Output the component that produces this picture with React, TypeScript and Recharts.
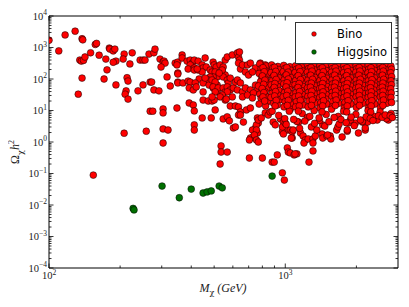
import React from "react";
import { ScatterChart, Scatter, XAxis, YAxis } from "recharts";

type Pt = [number, number];

// ---- x/y tick values ----
const xMajorTicks = [100, 1000];
const xMinorTicks = [200, 300, 400, 500, 600, 700, 800, 900, 2000];
const yMajorTicks = [1e-4, 1e-3, 1e-2, 1e-1, 1, 10, 100, 1000, 10000];
const yMajorExp = ["−4", "−3", "−2", "−1", "0", "1", "2", "3", "4"];
const xMajorExp = ["2", "3"];
const minorMultipliers = [2, 3, 4, 5, 6, 7, 8, 9];

// ---- Bino (mass GeV, relic density) ----
const binoLowMass: Pt[] = [
  [100, 1700], [110, 780], [117, 2500], [129, 3300], [138, 1900], [139, 1750],
  [135, 400], [137, 370], [140, 390], [142, 500], [150, 680], [157, 1250], [159, 1350],
  [163, 570], [138, 107], [133, 33], [154, 0.089], [174, 430], [176, 195], [171, 100],
  [180, 960], [181, 890], [187, 780], [190, 890], [192, 370], [187, 340], [192, 65],
  [208, 620], [206, 430], [208, 1.9], [214, 110], [216, 86], [212, 42], [210, 33],
  [216, 23], [220, 300], [225, 680], [238, 42], [243, 400], [250, 400], [255, 400],
  [250, 65], [265, 620], [268, 80], [278, 680], [281, 890], [272, 80], [278, 45],
  [292, 42], [258, 2.2], [268, 9.5], [275, 9.5], [295, 430],
];

const binoMidMass: Pt[] = [
  [304, 345], [307, 370], [310, 320], [298, 240], [316, 116],
  [342, 320], [351, 345], [348, 280], [366, 580], [366, 465], [351, 155], [351, 144],
  [384, 370], [396, 400], [404, 320], [412, 400], [396, 280], [388, 208], [412, 224],
  [412, 193], [428, 193], [428, 370], [432, 100],
  [445, 280], [449, 224], [463, 240], [445, 167], [458, 465], [424, 208],
  [495, 345], [500, 280], [510, 240], [481, 193], [490, 167], [505, 167], [515, 116],
  [495, 116], [481, 116], [472, 93],
  [530, 280], [546, 240], [541, 167], [557, 134], [546, 116], [568, 93], [574, 75],
  [585, 107], [541, 193], [525, 155],
  [557, 400], [568, 500], [597, 580], [627, 670], [634, 500], [640, 720],
  [640, 400], [634, 320], [646, 208], [659, 280], [692, 280], [712, 320], [678, 167], [699, 134],
  [784, 320], [823, 280], [847, 240], [748, 224], [726, 167],
  [326, 60], [351, 80], [351, 75], [369, 75], [388, 86], [396, 80], [416, 75], [392, 52],
  [408, 45], [420, 56],
  [449, 75], [449, 39], [458, 107], [476, 64], [495, 52], [515, 64], [515, 39], [490, 93],
  [505, 80], [495, 56],
  [520, 52], [505, 39], [546, 52], [557, 39], [568, 56], [585, 45], [603, 52], [615, 80], [568, 39],
  [627, 93], [646, 75], [627, 45], [659, 39], [659, 27], [678, 52], [712, 45], [692, 31],
  [748, 64], [762, 45], [733, 36], [726, 25], [541, 31], [530, 27], [557, 21.5],
  [449, 21.5], [472, 20], [490, 20], [500, 21.5], [490, 27], [563, 23], [597, 27],
  [392, 17.3], [408, 15], [412, 9.7], [304, 11.2], [304, 8.4], [348, 12],
  [445, 5.8], [486, 5.8], [546, 5.4], [568, 6.3], [580, 4.7], [505, 10.4],
  [585, 13.9], [615, 13.9], [634, 13], [646, 9.0], [665, 4.3], [634, 7.2], [646, 7.2],
  [685, 10.4], [712, 12], [762, 5.8], [769, 4.0], [748, 2.8], [762, 1.93], [733, 1.44],
  [755, 3.5], [769, 5.0],
  [603, 2.8], [615, 3.0], [412, 3.5], [412, 2.4], [304, 2.6], [319, 2.4], [712, 1.34],
  [726, 2.4], [755, 2.4], [740, 1.67], [755, 1.16], [769, 1.0], [792, 5.8], [823, 8.4],
  [705, 1.16],
  [304, 0.93], [535, 0.75], [535, 0.48], [568, 0.48], [530, 0.2], [705, 0.31], [800, 0.31],
  [880, 0.23], [898, 0.23], [925, 0.39], [972, 0.105], [991, 0.062],
];

const binoTransition: Pt[] = [
  [847, 7.2], [863, 9.0], [889, 4.3], [907, 3.5], [953, 5.4], [982, 4.3], [991, 3.0],
  [1020, 0.65], [1030, 0.48], [1050, 0.45], [1020, 2.4], [1050, 2.4], [1070, 1.34],
  [1090, 0.39], [1120, 0.42], [972, 2.1], [982, 1.8], [1070, 2.1], [1080, 2.4], [1060, 1.34],
  [1160, 1.93], [1190, 1.55], [1215, 1.16], [1200, 0.93], [1250, 1.25], [1310, 1.25],
  [1340, 1.55], [1310, 0.93], [1100, 0.42], [1310, 0.52], [1260, 0.23], [1430, 1.8],
  [1440, 1.34], [1500, 1.55], [1550, 1.55], [1560, 1.25], [1740, 1.44], [1650, 2.4],
  [1830, 2.2], [2040, 1.93], [2180, 2.4],
  [1140, 4.3], [1290, 3.0], [1360, 2.4], [1510, 1.67], [1830, 2.4], [2180, 2.8], [2230, 4.3],
  [2730, 5.0], [972, 3.0], [1000, 4.0], [1440, 3.5], [1670, 3.0], [1850, 4.0], [1980, 4.0],
  [2120, 4.3], [2450, 5.0],
];

const binoDenseA: Pt[] = [
  [780, 300], [790, 210], [775, 150], [795, 110], [785, 82], [770, 60], [800, 44], [780, 33], [790, 24], [775, 16],
  [830, 260], [820, 190], [840, 135], [825, 100], [835, 72], [845, 52], [820, 40], [830, 28], [840, 19], [826, 14],
  [875, 280], [885, 225], [870, 160], [890, 120], [880, 88], [872, 65], [888, 48], [878, 35], [870, 26], [892, 17], [880, 9.5],
  [930, 250], [940, 200], [925, 145], [945, 108], [935, 80], [928, 58], [942, 43], [932, 31], [948, 22], [926, 15], [938, 7],
  [985, 270], [995, 215], [980, 170], [1000, 125], [990, 95], [985, 70], [1000, 50], [992, 37], [980, 27], [998, 19], [988, 13], [995, 5.5],
  [1045, 245], [1055, 190], [1040, 150], [1060, 112], [1048, 84], [1058, 62], [1042, 46], [1055, 34], [1046, 24], [1060, 16], [1050, 11], [1040, 9.5],
  [1105, 262], [1115, 205], [1100, 160], [1120, 118], [1108, 90], [1100, 66], [1118, 50], [1110, 37], [1102, 27], [1115, 19], [1106, 13], [1120, 4.5],
  [1175, 240], [1185, 180], [1170, 140], [1190, 103], [1178, 78], [1188, 58], [1172, 43], [1185, 32], [1176, 22], [1190, 15], [1180, 8],
  [1245, 265], [1255, 215], [1240, 165], [1262, 125], [1248, 92], [1258, 70], [1242, 52], [1255, 38], [1246, 28], [1260, 20], [1250, 13], [1240, 6],
  [1320, 250], [1330, 195], [1315, 150], [1338, 112], [1322, 84], [1332, 61], [1318, 46], [1328, 34], [1320, 24], [1335, 17], [1325, 10],
  [1400, 258], [1410, 210], [1395, 160], [1418, 120], [1402, 90], [1412, 67], [1398, 50], [1408, 36], [1400, 26], [1415, 18], [1405, 12], [1395, 4.8],
  [1485, 245], [1495, 185], [1480, 140], [1502, 106], [1488, 80], [1498, 58], [1482, 44], [1494, 32], [1486, 23], [1500, 16], [1490, 7.5],
  [1575, 262], [1585, 215], [1570, 165], [1592, 124], [1578, 94], [1588, 70], [1572, 52], [1584, 38], [1576, 28], [1590, 19], [1580, 13], [1570, 11],
  [1670, 250], [1680, 195], [1665, 150], [1688, 112], [1672, 85], [1684, 63], [1668, 47], [1680, 35], [1672, 25], [1686, 17], [1676, 6.5],
  [1770, 258], [1780, 205], [1765, 158], [1790, 118], [1772, 88], [1784, 66], [1768, 49], [1780, 36], [1772, 26], [1788, 18], [1776, 12], [1766, 9.5],
  [1880, 245], [1890, 188], [1875, 145], [1898, 108], [1882, 82], [1894, 60], [1878, 45], [1890, 33], [1882, 24], [1896, 16], [1886, 5],
  [1995, 262], [2005, 212], [1990, 165], [2015, 124], [1998, 92], [2010, 69], [1992, 51], [2005, 38], [1996, 27], [2012, 19], [2000, 12.5], [1990, 7.5],
  [2115, 250], [2125, 195], [2110, 150], [2135, 112], [2118, 86], [2130, 63], [2112, 47], [2125, 35], [2116, 25], [2132, 17], [2120, 4.5],
  [2245, 258], [2255, 205], [2240, 158], [2265, 118], [2248, 88], [2260, 66], [2242, 49], [2255, 36], [2246, 26], [2262, 18], [2250, 12], [2240, 10],
  [2375, 245], [2385, 190], [2370, 145], [2395, 108], [2378, 82], [2390, 60], [2372, 45], [2385, 33], [2376, 24], [2392, 16], [2380, 6.5],
  [2525, 262], [2535, 212], [2520, 165], [2545, 124], [2528, 92], [2540, 69], [2522, 51], [2535, 38], [2526, 27], [2542, 19], [2530, 12.5], [2520, 9],
  [2675, 250], [2685, 195], [2670, 150], [2695, 112], [2678, 86], [2690, 63], [2672, 47], [2685, 35], [2676, 25], [2692, 17], [2680, 5.5],
  [2800, 258], [2815, 205], [2795, 158], [2820, 118], [2805, 88], [2815, 66], [2798, 49], [2810, 36], [2802, 26], [2818, 18], [2806, 8],
];

const binoDenseB: Pt[] = [
  [805, 230], [815, 170], [800, 125], [820, 92], [810, 68], [798, 50], [812, 37], [804, 27], [818, 20],
  [900, 235], [912, 175], [896, 130], [915, 97], [904, 72], [898, 54], [910, 40], [902, 29], [916, 21], [906, 14],
  [1015, 230], [1028, 165], [1010, 135], [1030, 100], [1018, 76], [1008, 56], [1025, 41], [1014, 30], [1030, 21], [1020, 14.5],
  [1140, 225], [1155, 172], [1135, 128], [1160, 96], [1145, 72], [1132, 54], [1150, 40], [1140, 29], [1158, 21], [1146, 14], [1136, 9.5],
  [1285, 232], [1298, 178], [1280, 132], [1305, 98], [1290, 74], [1278, 55], [1295, 41], [1285, 30], [1302, 21.5], [1290, 14.5],
  [1435, 228], [1450, 170], [1430, 128], [1455, 95], [1440, 72], [1428, 53], [1445, 39], [1435, 29], [1452, 20.5], [1440, 14], [1430, 9],
  [1625, 232], [1640, 178], [1618, 132], [1645, 98], [1630, 74], [1615, 55], [1635, 41], [1625, 30], [1642, 21.5], [1630, 14.5],
  [1825, 228], [1840, 170], [1818, 128], [1848, 95], [1830, 72], [1815, 53], [1835, 39], [1825, 29], [1845, 20.5], [1830, 14], [1820, 9],
  [2055, 232], [2070, 178], [2048, 132], [2078, 98], [2060, 74], [2045, 55], [2065, 41], [2055, 30], [2075, 21.5], [2060, 14.5],
  [2305, 228], [2320, 170], [2298, 128], [2330, 95], [2310, 72], [2295, 53], [2315, 39], [2305, 29], [2325, 20.5], [2310, 14], [2300, 9],
  [2585, 232], [2600, 178], [2578, 132], [2610, 98], [2590, 74], [2575, 55], [2595, 41], [2585, 30], [2605, 21.5], [2590, 14.5],
];

const binoDenseBottom: Pt[] = [
  [1010, 3.6], [1085, 5.2], [1150, 2.7], [1210, 4.6], [1270, 6.5], [1330, 3.9], [1390, 5.8],
  [1470, 3.2], [1530, 4.4], [1610, 6.0], [1690, 3.7], [1720, 5.2], [1810, 4.1], [1900, 6.2],
  [1960, 3.3], [2080, 5.0], [2200, 6.3], [2290, 5.6], [2350, 4.8], [2480, 6.8], [2570, 6.1],
  [2650, 7.2], [2780, 6.8], [2840, 6.0],
];

// ---- Higgsino ----
const higgsino: Pt[] = [
  [227, 0.0078], [229, 0.007], [301, 0.04], [356, 0.017], [400, 0.032], [449, 0.024],
  [467, 0.026], [486, 0.028], [525, 0.04], [541, 0.035], [880, 0.083],
];

const toRows = (pts: Pt[]) => pts.map(([m, o]) => ({ m, o }));
const binoData = toRows([
  ...binoLowMass, ...binoMidMass, ...binoTransition, ...binoDenseA, ...binoDenseB, ...binoDenseBottom,
]);
const higgsinoData = toRows(higgsino);

const xTicks = [...xMajorTicks, ...xMinorTicks];
const yTicks = [
  ...yMajorTicks,
  ...yMajorTicks.slice(0, -1).flatMap((d) => minorMultipliers.map((k) => d * k)),
];

const isMajor = (v: number) => Math.abs(Math.log10(v) - Math.round(Math.log10(v))) < 1e-6;
const SERIF = "'Liberation Serif', 'DejaVu Serif', serif";

const BottomTick = (props: any) => {
  const { x, y, payload } = props;
  const v = payload.value;
  const major = isMajor(v);
  const idx = xMajorTicks.findIndex((t) => Math.abs(t - v) < 1e-9);
  return (
    <g>
      <line x1={x} x2={x} y1={y} y2={y - (major ? 4.5 : 2.5)} stroke="#000" strokeWidth={0.8} />
      {major && idx >= 0 && (
        <text x={x} y={y + 11} textAnchor="middle" fontFamily={SERIF} fontSize={10.5} fill="#222">
          10
          <tspan dy={-4.5} fontSize={7.5}>{xMajorExp[idx]}</tspan>
        </text>
      )}
    </g>
  );
};

const TopTick = (props: any) => {
  const { x, y, payload } = props;
  const major = isMajor(payload.value);
  return <line x1={x} x2={x} y1={y} y2={y + (major ? 4.5 : 2.5)} stroke="#000" strokeWidth={0.8} />;
};

const LeftTick = (props: any) => {
  const { x, y, payload } = props;
  const v = payload.value;
  const major = isMajor(v);
  const idx = yMajorTicks.findIndex((t) => Math.abs(Math.log10(t) - Math.log10(v)) < 1e-6);
  return (
    <g>
      <line x1={x} x2={x + (major ? 4.5 : 2.5)} y1={y} y2={y} stroke="#000" strokeWidth={0.8} />
      {major && idx >= 0 && (
        <text x={x - 2} y={y + 3.5} textAnchor="end" fontFamily={SERIF} fontSize={10.5} fill="#222">
          10
          <tspan dy={-4.5} fontSize={7.5}>{yMajorExp[idx]}</tspan>
        </text>
      )}
    </g>
  );
};

const RightTick = (props: any) => {
  const { x, y, payload } = props;
  const major = isMajor(payload.value);
  return <line x1={x} x2={x - (major ? 4.5 : 2.5)} y1={y} y2={y} stroke="#000" strokeWidth={0.8} />;
};

const RedDot = (p: any) => (
  <circle cx={p.cx} cy={p.cy} r={3.4} fill="#ff0000" stroke="#000" strokeWidth={0.5} />
);
const GreenDot = (p: any) => (
  <circle cx={p.cx} cy={p.cy} r={3.4} fill="#006f00" stroke="#000" strokeWidth={0.5} />
);

const axisLine = { stroke: "#000", strokeWidth: 1 };

export default function App() {
  return (
    <div style={{ position: "relative", width: 401, height: 299 }}>
      <ScatterChart width={401} height={299} margin={{ top: 3, right: 6, bottom: 9, left: 6 }}>
        <XAxis
          xAxisId="b"
          dataKey="m"
          type="number"
          scale="log"
          domain={[100, 3000]}
          allowDataOverflow
          ticks={xTicks}
          interval={0}
          height={30}
          tickSize={0}
          tickMargin={0}
          tick={<BottomTick />}
          tickLine={false}
          axisLine={axisLine}
        />
        <XAxis
          xAxisId="t"
          orientation="top"
          dataKey="m"
          type="number"
          scale="log"
          domain={[100, 3000]}
          allowDataOverflow
          ticks={xTicks}
          interval={0}
          height={5}
          tickSize={0}
          tickMargin={0}
          tick={<TopTick />}
          tickLine={false}
          axisLine={axisLine}
        />
        <YAxis
          yAxisId="l"
          dataKey="o"
          type="number"
          scale="log"
          domain={[1e-4, 1e4]}
          allowDataOverflow
          ticks={yTicks}
          interval={0}
          width={35}
          tickSize={0}
          tickMargin={0}
          tick={<LeftTick />}
          tickLine={false}
          axisLine={axisLine}
        />
        <YAxis
          yAxisId="r"
          orientation="right"
          dataKey="o"
          type="number"
          scale="log"
          domain={[1e-4, 1e4]}
          allowDataOverflow
          ticks={yTicks}
          interval={0}
          width={5}
          tickSize={0}
          tickMargin={0}
          tick={<RightTick />}
          tickLine={false}
          axisLine={axisLine}
        />
        <Scatter
          name="Bino"
          data={binoData}
          xAxisId="b"
          yAxisId="l"
          shape={RedDot}
          isAnimationActive={false}
        />
        <Scatter
          name="Higgsino"
          data={higgsinoData}
          xAxisId="b"
          yAxisId="l"
          shape={GreenDot}
          isAnimationActive={false}
        />
      </ScatterChart>

      {/* legend */}
      <div
        style={{
          position: "absolute",
          left: 287,
          top: 14,
          width: 95,
          height: 40,
          border: "1px solid #333",
          background: "#fff",
        }}
      >
        <svg width={95} height={40} style={{ position: "absolute", left: 0, top: 0 }}>
          <circle cx={18} cy={11} r={2.3} fill="#ff0000" stroke="#000" strokeWidth={0.5} />
          <circle cx={18} cy={29} r={2.3} fill="#006f00" stroke="#000" strokeWidth={0.5} />
          <text x={41} y={15} fontFamily="'DejaVu Sans', sans-serif" fontSize={11.5}>Bino</text>
          <text x={41} y={33} fontFamily="'DejaVu Sans', sans-serif" fontSize={11.5}>Higgsino</text>
        </svg>
      </div>

      {/* x-axis title */}
      <div
        style={{
          position: "absolute",
          left: 215,
          top: 281,
          transform: "translate(-50%, -50%)",
          fontFamily: SERIF,
          fontSize: 12,
          whiteSpace: "nowrap",
          color: "#222",
        }}
      >
        <i>M</i>
        <sub style={{ fontSize: 8, fontStyle: "normal", fontFamily: "'DejaVu Serif', serif" }}>χ</sub>
        <span> </span>
        <i>(GeV)</i>
      </div>

      {/* y-axis title */}
      <div
        style={{
          position: "absolute",
          left: 8,
          top: 144,
          transform: "translate(-50%, -50%) rotate(-90deg)",
          fontFamily: SERIF,
          fontSize: 12,
          whiteSpace: "nowrap",
          color: "#222",
        }}
      >
        <span>Ω</span>
        <sub style={{ fontSize: 8, fontStyle: "normal", fontFamily: "'DejaVu Serif', serif" }}>χ</sub>
        <i>h</i>
        <sup style={{ fontSize: 8 }}>2</sup>
      </div>
    </div>
  );
}
